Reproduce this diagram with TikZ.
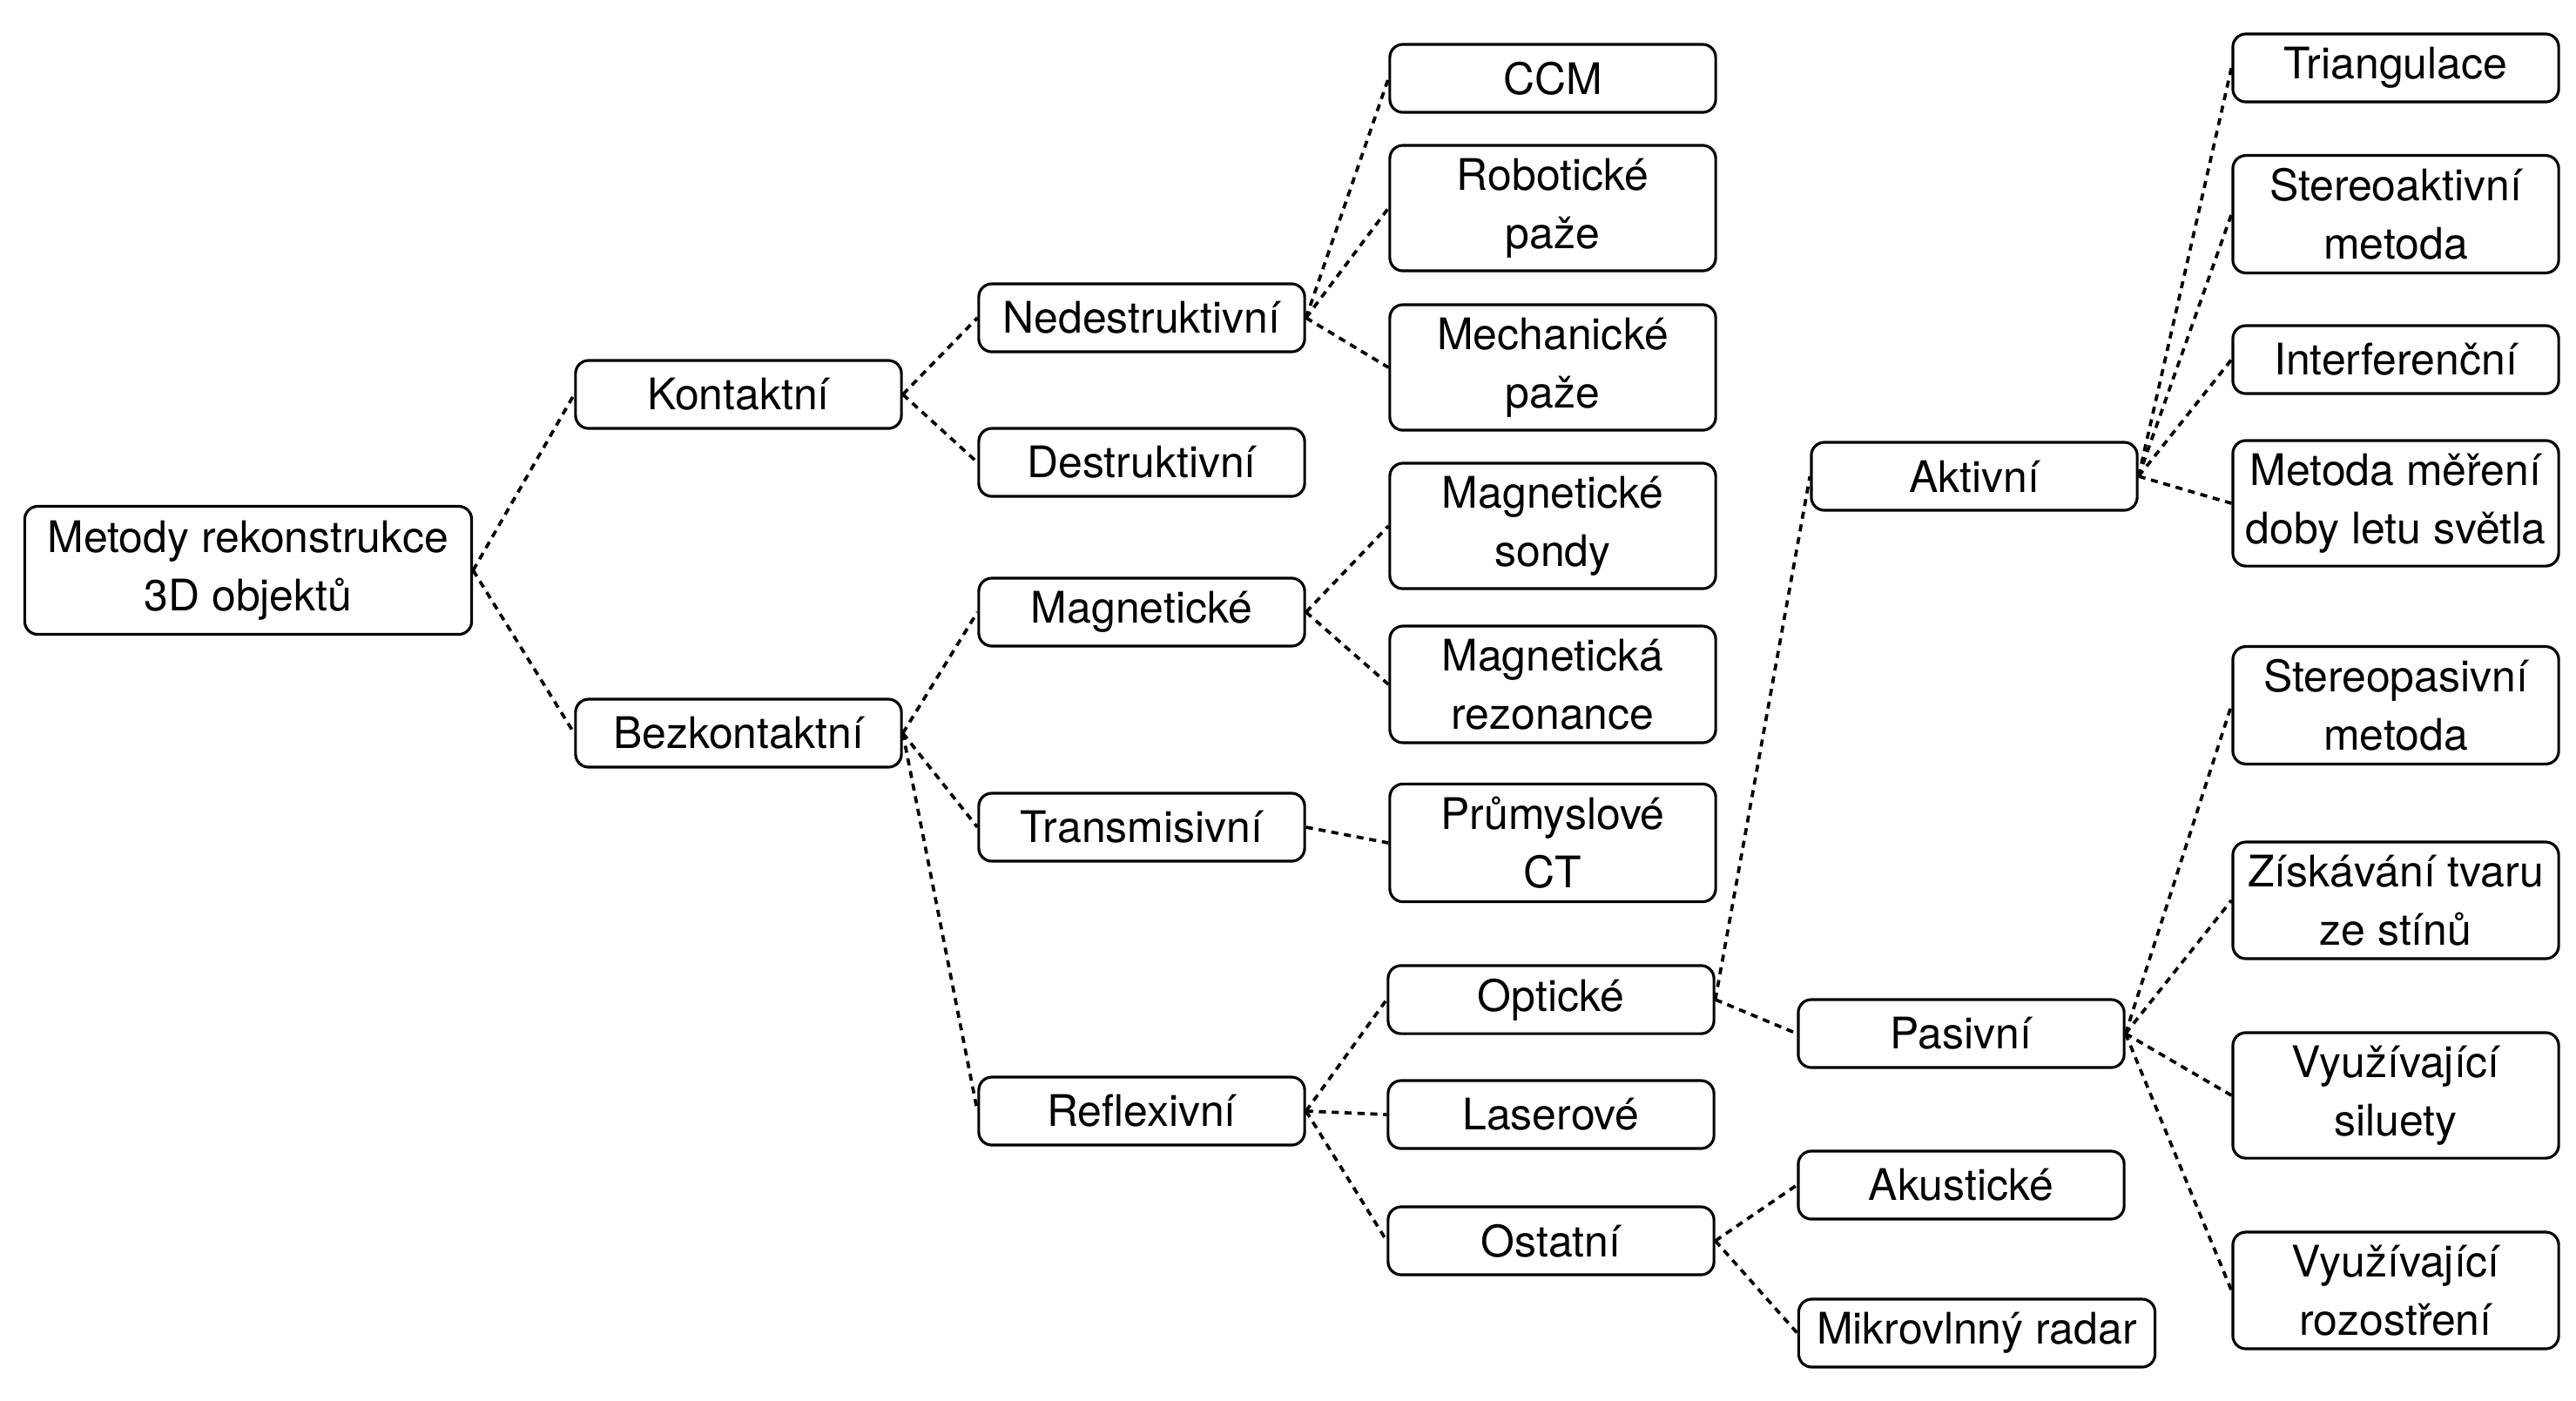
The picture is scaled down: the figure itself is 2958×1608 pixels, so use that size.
\documentclass[tikz,border=0pt]{standalone}
\usepackage{fontspec}
\setmainfont{TeX Gyre Heros}
\usepackage{tikz}
\tikzset{box/.style={draw, rounded corners=0.15cm, line width=0.9pt, minimum width=3.74cm,
        minimum height=0.78cm, inner xsep=0.05cm, inner ysep=0.15cm, align=center,
        font=\fontsize{14.2}{19}\selectfont}}
\tikzset{link/.style={dash pattern=on 2.3pt off 1.9pt, line width=1.05pt}}

\begin{document}
\begin{tikzpicture}[x=0.01cm,y=-0.01cm]
                \useasboundingbox (0,0) rectangle (2958,1608);
                % koren a prvni uroven
                \node[box, minimum width=5.13cm, minimum height=1.47cm] (root) at (285,655) {Metody rekonstrukce\\3D objektů};
                \node[box] (kont) at (848,453) {Kontaktní};
                \node[box] (bezk) at (848,842) {Bezkontaktní};
                % druha uroven
                \node[box] (nedes) at (1311,365) {Nedestruktivní};
                \node[box] (destr) at (1311,531) {Destruktivní};
                \node[box] (magn) at (1311,703) {Magnetické};
                \node[box] (trans) at (1311,950) {Transmisivní};
                \node[box] (refl) at (1311,1276) {Reflexivní};
                % treti uroven
                \node[box] (ccm) at (1783,90) {CCM};
                \node[box] (robot) at (1783,239) {Robotické\\paže};
                \node[box] (mech) at (1783,422) {Mechanické\\paže};
                \node[box] (msond) at (1783,604) {Magnetické\\sondy};
                \node[box] (mrez) at (1783,786) {Magnetická\\rezonance};
                \node[box] (ct) at (1783,968) {Průmyslové\\CT};
                \node[box] (opt) at (1781,1148) {Optické};
                \node[box] (laser) at (1781,1280) {Laserové};
                \node[box] (ost) at (1781,1425) {Ostatní};
                % ctvrta uroven
                \node[box] (akt) at (2267,547) {Aktivní};
                \node[box] (pas) at (2252,1187) {Pasivní};
                \node[box] (akust) at (2252,1361) {Akustické};
                \node[box, minimum width=4.09cm] (radar) at (2270,1531) {Mikrovlnný radar};
                % pata uroven
                \node[box] (tri) at (2751,78) {Triangulace};
                \node[box] (stereoa) at (2751,246) {Stereoaktivní\\metoda};
                \node[box] (interf) at (2751,413) {Interferenční};
                \node[box] (tof) at (2751,578) {Metoda měření\\doby letu světla};
                \node[box] (stereop) at (2751,810) {Stereopasivní\\metoda};
                \node[box] (stiny) at (2751,1034) {Získávání tvaru\\ze stínů};
                \node[box] (silue) at (2751,1258) {Využívající\\siluety};
                \node[box] (rozos) at (2751,1482) {Využívající\\rozostření};
                \path[link]
                    (root.east) edge (kont.west)
                    (root.east) edge (bezk.west)
                    (kont.east) edge (nedes.west)
                    (kont.east) edge (destr.west)
                    (bezk.east) edge (magn.west)
                    (bezk.east) edge (trans.west)
                    (bezk.east) edge (refl.west)
                    (nedes.east) edge (ccm.west)
                    (nedes.east) edge (robot.west)
                    (nedes.east) edge (mech.west)
                    (magn.east) edge (msond.west)
                    (magn.east) edge (mrez.west)
                    (trans.east) edge (ct.west)
                    (refl.east) edge (opt.west)
                    (refl.east) edge (laser.west)
                    (refl.east) edge (ost.west)
                    (opt.east) edge (akt.west)
                    (opt.east) edge (pas.west)
                    (ost.east) edge (akust.west)
                    (ost.east) edge (radar.west)
                    (akt.east) edge (tri.west)
                    (akt.east) edge (stereoa.west)
                    (akt.east) edge (interf.west)
                    (akt.east) edge (tof.west)
                    (pas.east) edge (stereop.west)
                    (pas.east) edge (stiny.west)
                    (pas.east) edge (silue.west)
                    (pas.east) edge (rozos.west)
                    ;
\end{tikzpicture}
\end{document}
